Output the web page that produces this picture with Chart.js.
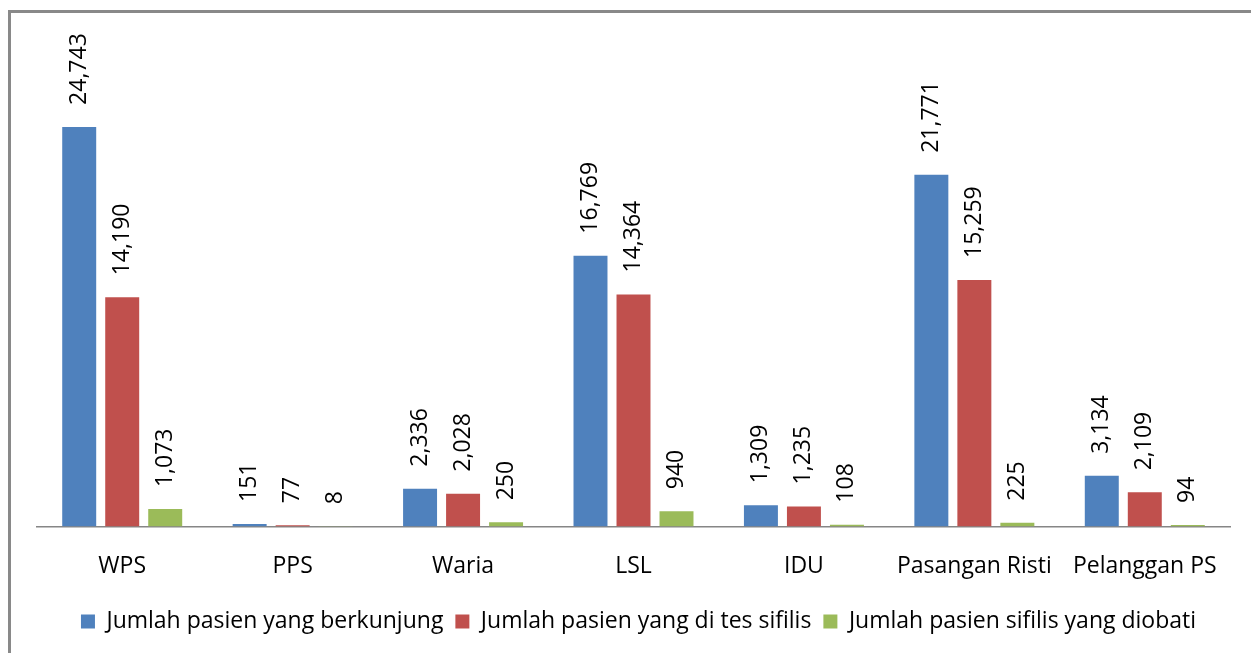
<!DOCTYPE html>
<html>
<head>
<meta charset="utf-8">
<script src="https://cdn.jsdelivr.net/npm/chart.js@4/dist/chart.umd.min.js"></script>
<style>
  html, body { margin: 0; padding: 0; background: #fff; }
  #wrap { position: relative; width: 1251px; height: 653px; overflow: hidden; }
  #frame { position: absolute; left: 8px; top: 10px; width: 1300px; height: 700px;
           border-left: 3px solid #898989; border-top: 3px solid #898989; }
  #mycanvas { position: absolute; left: 0; top: 0; }
</style>
</head>
<body>
<div id="wrap">
  <div id="frame"></div>
  <canvas id="mycanvas" width="1251" height="653"></canvas>
</div>
<script>
var categories = ["WPS", "PPS", "Waria", "LSL", "IDU", "Pasangan Risti", "Pelanggan PS"];
var berkunjung = [24743, 151, 2336, 16769, 1309, 21771, 3134];
var dites = [14190, 77, 2028, 14364, 1235, 15259, 2109];
var diobati = [1073, 8, 250, 940, 108, 225, 94];

var fontName = "'Open Sans', sans-serif";

// labels stood on end above each bar
var barLabels = {
  id: "barLabels",
  afterDatasetsDraw: function(chart) {
    var ctx = chart.ctx;
    ctx.save();
    ctx.font = "23px " + fontName;
    ctx.fillStyle = "#000";
    ctx.textAlign = "left";
    ctx.textBaseline = "middle";
    chart.data.datasets.forEach(function(ds, i) {
      var meta = chart.getDatasetMeta(i);
      meta.data.forEach(function(bar, j) {
        ctx.save();
        ctx.translate(bar.x, bar.y - 22);
        ctx.rotate(-Math.PI / 2);
        ctx.fillText(ds.data[j].toLocaleString("en-US"), 0, 0);
        ctx.restore();
      });
    });
    ctx.restore();
  }
};

// nudge the legend a little to the right, like the original
var legendShift = {
  id: "legendShift",
  afterLayout: function(chart) {
    var lg = chart.legend;
    lg.left += 5;
    lg.right += 5;
    lg.legendHitBoxes.forEach(function(b) { b.left += 5; });
  }
};

var ctx = document.getElementById("mycanvas");

var chart = new Chart(ctx, {
  type: "bar",
  data: {
    labels: categories,
    datasets: [
      { label: "Jumlah pasien yang berkunjung", backgroundColor: "#4F81BD", data: berkunjung },
      { label: "Jumlah pasien yang di tes sifilis", backgroundColor: "#C0504D", data: dites },
      { label: "Jumlah pasien sifilis yang diobati", backgroundColor: "#9BBB59", data: diobati }
    ]
  },
  options: {
    responsive: false,
    animation: false,
    categoryPercentage: 0.757,
    barPercentage: 0.79,
    layout: { padding: { left: 37, right: 21, top: 42, bottom: 10 } },
    plugins: {
      tooltip: { enabled: false },
      legend: {
        position: "bottom",
        labels: {
          boxWidth: 14,
          boxHeight: 14,
          padding: 12,
          color: "#000",
          font: { family: fontName, size: 23 }
        }
      }
    },
    scales: {
      x: {
        grid: { display: false },
        border: { color: "#868686", width: 1.5 },
        ticks: { color: "#000", padding: 18, font: { family: fontName, size: 23 } }
      },
      y: {
        display: false,
        min: 0,
        max: 30000
      }
    }
  },
  plugins: [barLabels, legendShift]
});
</script>
</body>
</html>
